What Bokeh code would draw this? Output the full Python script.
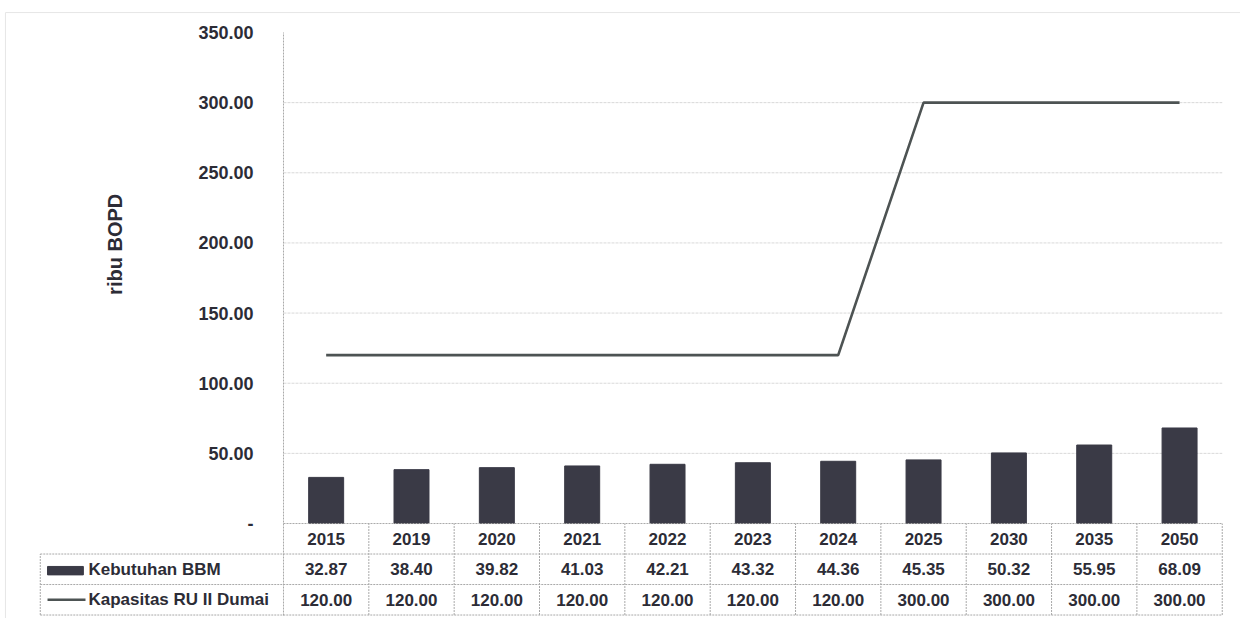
import math
from bokeh.plotting import figure
from bokeh.models import Range1d, FixedTicker, CustomJSTickFormatter, ColumnDataSource
from bokeh.core.properties import value
from bokeh.embed import file_html
from bokeh.resources import INLINE

# --- data -----------------------------------------------------------------
years = ["2015", "2019", "2020", "2021", "2022", "2023", "2024", "2025", "2030", "2035", "2050"]
kebutuhan_bbm = [32.87, 38.40, 39.82, 41.03, 42.21, 43.32, 44.36, 45.35, 50.32, 55.95, 68.09]
kapasitas_ru2 = [120.00, 120.00, 120.00, 120.00, 120.00, 120.00, 120.00, 300.00, 300.00, 300.00, 300.00]
series_names = ["Kebutuhan BBM", "Kapasitas RU II Dumai"]
y_ticks = [0, 50, 100, 150, 200, 250, 300, 350]
y_label = "ribu BOPD"

# --- layout constants -------------------------------------------------------
W, H = 1240, 618
n = len(years)
head_w = 2.85          # width of the row-header column, in category units
row_h = 21.74          # table row height, in value units
y_top_data = 372.8
y_bot_data = -67.7
x_left = -3.316
x_right = 11.214

BAR_COLOR = "#3a3a46"
LINE_COLOR = "#4d5353"
TEXT_COLOR = "#2c2c36"
TABLE_LINE = "#a9a9a9"
GRID_LINE = "#d9d9d9"
TABLE_FONT = value("Liberation Sans")

p = figure(width=W, height=H, output_backend="svg", toolbar_location=None,
           x_range=Range1d(x_left, x_right), y_range=Range1d(y_bot_data, y_top_data),
           x_axis_location=None, min_border=0)
p.outline_line_color = None
p.xgrid.visible = False
p.ygrid.visible = False
p.background_fill_color = "white"
p.border_fill_color = "white"

centers = [i + 0.5 for i in range(n)]
table_bottom = -3 * row_h

# value axis sits on the left edge of the category columns
ax = p.yaxis[0]
ax.fixed_location = 0
ax.bounds = (table_bottom, max(y_ticks))
ax.ticker = FixedTicker(ticks=y_ticks)
ax.formatter = CustomJSTickFormatter(code="return tick == 0 ? '-' : tick.toFixed(2);")
ax.major_tick_line_color = None
ax.minor_tick_line_color = None
ax.axis_line_color = TABLE_LINE
ax.axis_line_dash = "2 1"
ax.major_label_standoff = 24
ax.major_label_text_font = "Liberation Sans"
ax.major_label_text_font_style = "bold"
ax.major_label_text_font_size = "18px"
ax.major_label_text_color = TEXT_COLOR

# horizontal gridlines across the category area
grid_vals = [t for t in y_ticks if 0 < t < max(y_ticks)]
p.segment(x0=[0] * len(grid_vals), y0=grid_vals, x1=[n] * len(grid_vals), y1=grid_vals,
          line_color=GRID_LINE, line_width=1, line_dash="3 1")

# bars and capacity line
src = ColumnDataSource(dict(x=centers, bbm=kebutuhan_bbm, cap=kapasitas_ru2))
p.vbar(x="x", top="bbm", bottom=0, width=0.41, source=src,
       fill_color=BAR_COLOR, line_color=BAR_COLOR)
p.line(x="x", y="cap", source=src, line_color=LINE_COLOR, line_width=2.6)

# y axis title
p.text(x=[-1.97], y=[199], text=[y_label], angle=math.pi / 2,
       text_font=value("Liberation Sans"), text_font_style="bold", text_font_size="20px",
       text_color=TEXT_COLOR, text_align="center", text_baseline="middle")

# --- data table -------------------------------------------------------------
hx0 = [0, -head_w, -head_w, -head_w]
hy = [0, -row_h, -2 * row_h, table_bottom]
p.segment(x0=hx0, y0=hy, x1=[n] * 4, y1=hy, line_color=TABLE_LINE, line_width=1, line_dash="2 1")
vx = list(range(1, n + 1)) + [-head_w]
vy1 = [0] * n + [-row_h]
p.segment(x0=vx, y0=[table_bottom] * len(vx), x1=vx, y1=vy1,
          line_color=TABLE_LINE, line_width=1, line_dash="2 1")

row_mid = [-(k + 0.5) * row_h for k in range(3)]
cell_x = centers * 3
cell_y = [row_mid[0]] * n + [row_mid[1]] * n + [row_mid[2]] * n
cell_text = years + ["%.2f" % v for v in kebutuhan_bbm] + ["%.2f" % v for v in kapasitas_ru2]
p.text(x=cell_x, y=cell_y, text=cell_text, text_font=TABLE_FONT, text_font_style="bold",
       text_font_size="17px", text_color=TEXT_COLOR, text_align="center", text_baseline="middle")

# row headers with legend keys
p.text(x=[-2.285, -2.285], y=row_mid[1:], text=series_names, text_font=TABLE_FONT,
       text_font_style="bold", text_font_size="17px", text_color=TEXT_COLOR,
       text_align="left", text_baseline="middle")
p.rect(x=[-2.555], y=[row_mid[1] - 1.0], width=0.42, height=6,
       fill_color=BAR_COLOR, line_color=BAR_COLOR)
p.segment(x0=[-2.765], y0=[row_mid[2]], x1=[-2.32], y1=[row_mid[2]],
          line_color=LINE_COLOR, line_width=2.6)

# faint chart border
p.segment(x0=[-3.258, -3.258], y0=[364.2, 364.2], x1=[x_right, -3.258], y1=[364.2, y_bot_data],
          line_color="#e6e6e6", line_width=1)

open("out.html", "w").write(file_html(p, INLINE))
